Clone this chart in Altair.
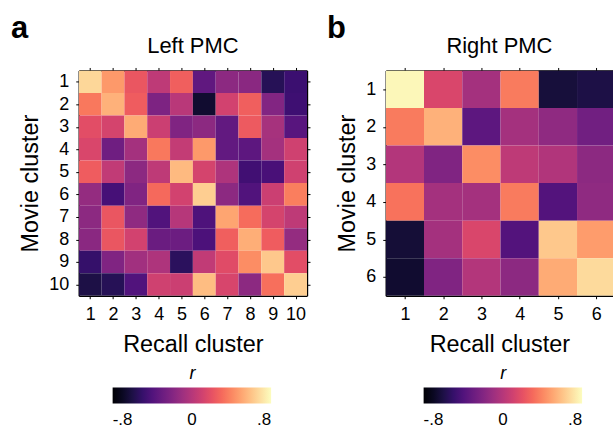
import altair as alt
import pandas as pd

# Correlation matrices (movie cluster x recall cluster), Pearson r
left_rows = [
    [0.67, 0.46, 0.22, 0.03, 0.26, -0.34, -0.16, -0.17, -0.56, -0.48],
    [0.35, 0.54, 0.25, -0.22, 0.01, -0.66, 0.11, 0.26, -0.20, -0.47],
    [0.18, 0.12, 0.52, 0.08, -0.21, -0.16, -0.33, 0.24, -0.06, -0.37],
    [0.14, -0.28, -0.07, 0.35, 0.05, 0.46, -0.33, -0.35, -0.07, 0.10],
    [0.25, 0.04, -0.16, 0.03, 0.57, 0.12, -0.03, -0.46, -0.43, 0.10],
    [-0.13, -0.44, -0.21, 0.30, 0.11, 0.64, -0.16, -0.40, 0.08, 0.37],
    [-0.16, 0.22, -0.15, -0.40, 0.00, -0.41, 0.50, 0.31, 0.12, 0.03],
    [-0.17, 0.22, 0.11, -0.30, -0.29, -0.42, 0.26, 0.53, 0.25, -0.13],
    [-0.50, -0.21, -0.08, -0.03, -0.54, 0.04, 0.17, 0.42, 0.62, 0.18],
    [-0.60, -0.56, -0.40, 0.10, 0.08, 0.58, 0.13, -0.16, 0.32, 0.64],
]
right_rows = [
    [0.78, 0.14, -0.07, 0.36, -0.63, -0.60],
    [0.36, 0.54, -0.35, -0.07, -0.15, -0.27],
    [-0.01, -0.21, 0.42, 0.03, -0.02, -0.16],
    [0.33, -0.07, -0.07, 0.36, -0.39, -0.15],
    [-0.64, -0.07, 0.14, -0.39, 0.62, 0.47],
    [-0.66, -0.21, -0.01, -0.16, 0.52, 0.68],
]
r_ticks = [-0.8, 0, 0.8]

FONT = "Liberation Sans"


def long_form(rows):
    recs = []
    for i, row in enumerate(rows, start=1):
        for j, v in enumerate(row, start=1):
            recs.append({"movie": i, "recall": j,
                         "x0": j - 0.5, "x1": j + 0.5,
                         "y0": i - 0.5, "y1": i + 0.5, "r": v})
    return pd.DataFrame(recs)


def panel(rows, letter, title, xmax, width, height, right_axis, legend_x, tag_x):
    n = len(rows)
    df = long_form(rows)
    xs = alt.Scale(domain=[0.5, xmax], nice=False, zero=False)
    ys = alt.Scale(domain=[0.5, n + 0.5], nice=False, zero=False, reverse=True)
    ticks = list(range(1, n + 1))

    heat = alt.Chart(df).mark_rect(clip=True).encode(
        x=alt.X("x0:Q", scale=xs,
                axis=alt.Axis(values=ticks, title="Recall cluster", format="d")),
        x2="x1:Q",
        y=alt.Y("y0:Q", scale=ys,
                axis=alt.Axis(values=ticks, title="Movie cluster", format="d",
                              titlePadding=6)),
        y2="y1:Q",
        color=alt.Color(
            "r:Q",
            scale=alt.Scale(scheme="magma", domain=[-0.8, 0.8], clamp=True),
            legend=alt.Legend(
                orient="none", direction="horizontal",
                legendX=legend_x, legendY=296,
                title="r", titleFontStyle="italic", titleFontWeight="normal",
                titleFontSize=18, titleAnchor="middle", titleOrient="top",
                titlePadding=4,
                gradientLength=159, gradientThickness=16,
                gradientStrokeWidth=0,
                values=r_ticks,
                labelExpr="datum.value < 0 ? '-.8' : datum.value > 0 ? '.8' : '0'",
                labelAlign="center", labelFontSize=17, labelOffset=9,
                tickCount=3,
            ),
        ),
    )

    frame = alt.Chart(df).mark_rect(opacity=0).encode(
        x=alt.X("x0:Q", scale=xs,
                axis=alt.Axis(orient="top", values=ticks, labels=False, title=None)),
        y=alt.Y("y0:Q", scale=ys,
                axis=(alt.Axis(orient="right", values=ticks, labels=False, title=None)
                      if right_axis else None)),
    )

    tag = alt.Chart(pd.DataFrame({"t": [letter]})).mark_text(
        align="left", baseline="alphabetic", fontSize=31, fontWeight="bold",
        font=FONT, color="black",
    ).encode(text="t:N", x=alt.value(tag_x), y=alt.value(-33))

    head = alt.Chart(pd.DataFrame({"t": [title]})).mark_text(
        align="center", baseline="alphabetic", fontSize=22,
        font=FONT, color="black",
    ).encode(text="t:N", x=alt.value(width / 2), y=alt.value(-18))

    return alt.layer(heat, frame, tag, head).resolve_axis(
        x="independent", y="independent"
    ).properties(width=width, height=height)


left = panel(left_rows, "a", "Left PMC", 10.5, 229, 226, True, 34, -68)
right = panel(right_rows, "b", "Right PMC", 0.5 + 227.5 / 38.3, 228, 226,
              False, 38, -59)

chart = alt.hconcat(left, right, spacing=16).resolve_scale(
    color="independent"
).properties(
    padding={"left": 11, "top": 12, "right": 0, "bottom": 0},
).configure_view(stroke=None).configure_axis(
    domainColor="black", domainWidth=1.4, tickColor="black", tickSize=3,
    tickWidth=1, labelColor="black", titleColor="black", grid=False,
    labelFont=FONT, titleFont=FONT, labelFontSize=18, titleFontSize=23.5,
    titleFontWeight="normal", labelPadding=7, titlePadding=9,
).configure_legend(labelFont=FONT, titleFont=FONT, labelColor="black",
                   titleColor="black")

chart.save("out.html", embed_options={"renderer": "svg", "actions": False})
